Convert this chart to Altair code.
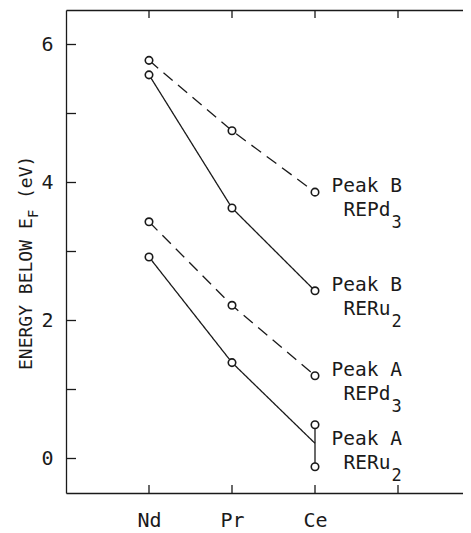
import altair as alt
import pandas as pd

# ---- data ----
elements = ["Nd", "Pr", "Ce"]
element_pos = [1, 2, 3]
peak_b_repd3 = [5.77, 4.75, 3.86]
peak_b_reru2 = [5.56, 3.63, 2.43]
peak_a_repd3 = [3.43, 2.22, 1.20]
peak_a_reru2 = [2.92, 1.39, 0.22]          # line ends at the split at Ce
peak_a_reru2_ce = [-0.12, 0.49]            # two Ce values joined by a vertical bar
series_names = ["Peak B REPd3", "Peak B RERu2", "Peak A REPd3", "Peak A RERu2"]
series_style = ["dashed", "solid", "dashed", "solid"]
label_line1 = ["Peak B", "Peak B", "Peak A", "Peak A"]
label_line2 = ["REPd", "RERu", "REPd", "RERu"]
label_sub = ["3", "2", "3", "2"]
y_major_ticks = [0, 2, 4, 6]
y_all_ticks = [0, 1, 2, 3, 4, 5, 6]
x_ticks = [1, 2, 3, 4]
title_parts = ["ENERGY BELOW E", "F", "(eV)"]

W, H = 397, 483
FONT = "DejaVu Sans Mono"
INK = "#1a1a1a"

series_vals = [peak_b_repd3, peak_b_reru2, peak_a_repd3, peak_a_reru2]
rows = []
for name, style, vals in zip(series_names, series_style, series_vals):
    for el, pos, v in zip(elements, element_pos, vals):
        rows.append({"series": name, "style": style, "el": el, "x": pos, "y": v})
lines_df = pd.DataFrame(rows)

pts = [r for r in rows if not (r["series"] == "Peak A RERu2" and r["el"] == "Ce")]
for v in peak_a_reru2_ce:
    pts.append({"series": "Peak A RERu2", "style": "solid", "el": "Ce", "x": 3, "y": v})
pts_df = pd.DataFrame(pts)

bar_df = pd.DataFrame({"x": [3], "y": [peak_a_reru2_ce[0]], "y2": [peak_a_reru2_ce[1]]})

lab_df = pd.DataFrame({
    "x": [3.2] * 4,
    "y": [peak_b_repd3[2], peak_b_reru2[2], peak_a_repd3[2], peak_a_reru2[2] - 0.03],
    "l1": label_line1, "l2": label_line2, "sub": label_sub,
})

xscale = alt.Scale(domain=[0, W / 83.0], nice=False, zero=False)
yscale = alt.Scale(domain=[-0.5, 6.5], nice=False, zero=False)

label_expr = " : ".join(
    [f"datum.value == {p} ? '{e}'" for p, e in zip(element_pos, elements)]
) + " : ''"

x_bottom = alt.Axis(orient="bottom", values=element_pos, labelExpr=label_expr,
                    ticks=False, grid=False, domain=True, domainColor=INK,
                    domainWidth=1.3, labelFont=FONT, labelFontSize=20,
                    labelColor=INK, labelPadding=17, title=None)
x_top = alt.Axis(orient="top", labels=False, ticks=False, grid=False,
                 domain=True, domainColor=INK, domainWidth=1.3, title=None)
y_axis = alt.Axis(values=y_major_ticks, ticks=False, grid=False, domain=True,
                  domainColor=INK, domainWidth=1.3, labelFont=FONT,
                  labelFontSize=20, labelColor=INK, labelPadding=13, title=None)

X = lambda field, axis=None: alt.X(field, type="quantitative", scale=xscale, axis=axis)
Y = lambda field: alt.Y(field, type="quantitative", scale=yscale, axis=y_axis)

lines = alt.Chart(lines_df).mark_line(color=INK, strokeWidth=1.3).encode(
    x=X("x", x_bottom), y=Y("y"), detail="series:N",
    strokeDash=alt.StrokeDash("style:N", scale=alt.Scale(domain=["solid", "dashed"],
                              range=[[1, 0], [12, 7]]), legend=None),
)

bar = alt.Chart(bar_df).mark_rule(color=INK, strokeWidth=1.3).encode(
    x=X("x"), y=Y("y"), y2="y2")

points = alt.Chart(pts_df).mark_circle(fill="white", stroke=INK, strokeWidth=1.6,
                                       size=56, opacity=1).encode(x=X("x"), y=Y("y"))

ytick_df = pd.DataFrame({"y": y_all_ticks})
yticks = alt.Chart(ytick_df).mark_rule(color=INK, strokeWidth=1.3).encode(
    y=Y("y"), x=alt.value(0), x2=alt.value(10))

xtick_df = pd.DataFrame({"x": x_ticks})
xticks_bottom = alt.Chart(xtick_df).mark_rule(color=INK, strokeWidth=1.3).encode(
    x=X("x"), y=alt.value(H), y2=alt.value(H - 8))
xticks_top = alt.Chart(xtick_df).mark_rule(color=INK, strokeWidth=1.3).encode(
    x=X("x", x_top), y=alt.value(0), y2=alt.value(8))

txt = dict(font=FONT, color=INK, align="left", baseline="middle")
lab1 = alt.Chart(lab_df).mark_text(fontSize=19.5, dy=-6, **txt).encode(
    x=X("x"), y=Y("y"), text="l1:N")
lab2 = alt.Chart(lab_df).mark_text(fontSize=19.5, dx=12, dy=18, **txt).encode(
    x=X("x"), y=Y("y"), text="l2:N")
lab3 = alt.Chart(lab_df).mark_text(fontSize=17, dx=60, dy=31, **txt).encode(
    x=X("x"), y=Y("y"), text="sub:N")

title_df = pd.DataFrame({"t": [title_parts[0]]})
t1 = alt.Chart(title_df).mark_text(fontSize=18, angle=270, **txt).encode(
    text="t:N", x=alt.value(-39), y=alt.value(360))
t2 = alt.Chart(pd.DataFrame({"t": [title_parts[1]]})).mark_text(
    fontSize=14, angle=270, **txt).encode(text="t:N", x=alt.value(-32), y=alt.value(208))
t3 = alt.Chart(pd.DataFrame({"t": [title_parts[2]]})).mark_text(
    fontSize=18, angle=270, **txt).encode(text="t:N", x=alt.value(-39), y=alt.value(189))

chart = alt.layer(
    lines, bar, points, yticks, xticks_bottom, xticks_top, lab1, lab2, lab3, t1, t2, t3
).resolve_axis(x="independent").properties(
    width=W, height=H,
    autosize=alt.AutoSizeParams(type="none"),
    padding={"left": 58, "top": 2, "right": 0, "bottom": 40},
    background="white",
).configure_view(stroke=None)

chart.save("out.html", embed_options={"renderer": "svg", "actions": False})
